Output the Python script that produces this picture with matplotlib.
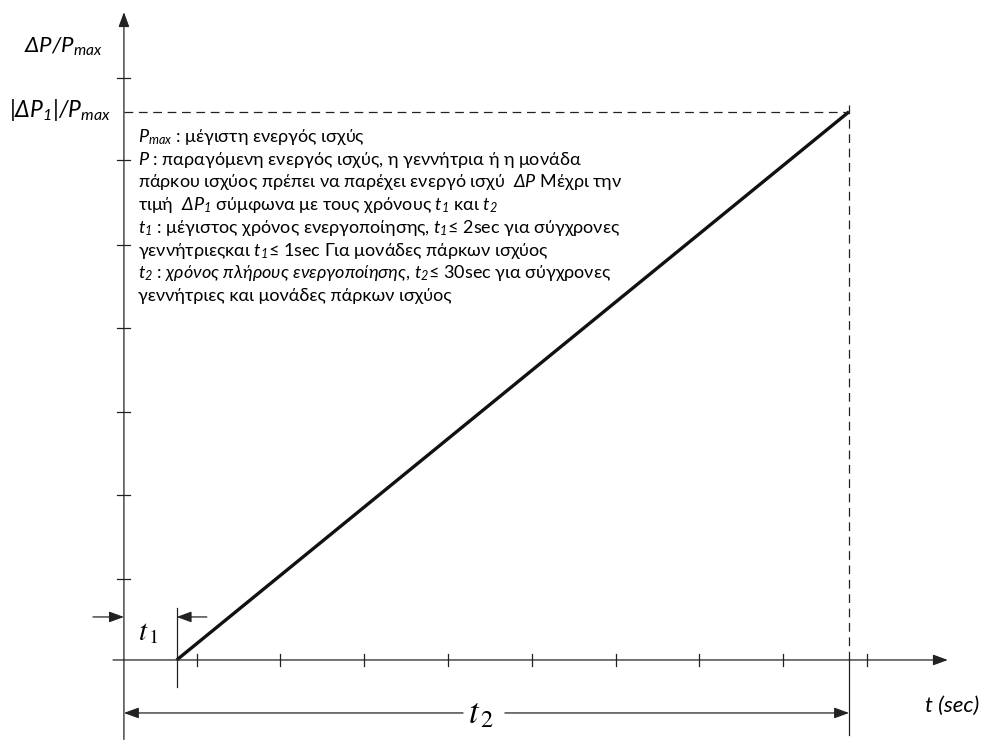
import matplotlib
matplotlib.use('Agg')
import matplotlib.pyplot as plt

# mathtext in italic sans (for the variables), t1/t2 labels use stix
plt.rcParams['font.family'] = ['Lato', 'DejaVu Sans']
plt.rcParams['mathtext.fontset'] = 'custom'
plt.rcParams['mathtext.rm'] = 'Lato:italic'
plt.rcParams['mathtext.it'] = 'Lato:italic'
plt.rcParams['mathtext.bf'] = 'Lato:bold'

# schematic values (1 unit = one tick step)
t1 = 0.63
t2 = 8.66
dp1 = 6.55
ramp_t = [t1, t2]
ramp_p = [0, dp1]
x_ticks = [0.87, 1.87, 2.87, 3.87, 4.87, 5.88, 6.87, 7.87, 8.88]
y_ticks = [0.97, 1.97, 2.96, 3.97, 4.96, 5.97, 6.95]

notes = [
    r"$P_{max}$ : μέγιστη ενεργός ισχύς",
    r"$P$ : παραγόμενη ενεργός ισχύς, η γεννήτρια ή η μονάδα",
    r"πάρκου ισχύος πρέπει να παρέχει ενεργό ισχύ  $ΔP$ Μέχρι την",
    r"τιμή  $ΔP_1$ σύμφωνα με τους χρόνους $t_1$ και $t_2$",
    r"$t_1$ : μέγιστος χρόνος ενεργοποίησης, $t_1$≤ 2sec για σύγχρονες",
    r"γεννήτριεςκαι $t_1$≤ 1sec Για μονάδες πάρκων ισχύος",
    r"$t_2$ : $χρόνος\ πλήρους\ ενεργοποίησης$, $t_2$≤ 30sec για σύγχρονες",
    r"γεννήτριες και μονάδες πάρκων ισχύος",
]

fig = plt.figure(figsize=(9.83, 7.40), dpi=100)
ax = fig.add_axes([0, 0, 1, 1])
ax.set_xlim(-1.48, 10.26)
ax.set_ylim(-0.956, 7.885)
ax.axis('off')

axc = '#222222'
alw = 0.9

def arrow(x0, y0, x1, y1):
    ax.annotate('', xy=(x1, y1), xytext=(x0, y0),
                arrowprops=dict(arrowstyle='-|>,head_length=0.9,head_width=0.33',
                                mutation_scale=10, lw=alw, color=axc,
                                shrinkA=0, shrinkB=0))

# axes with arrows
arrow(0, -0.95, 0, 7.74)
arrow(-0.13, 0, 9.84, 0)

# ticks
for yt in y_ticks:
    ax.plot([-0.08, 0.07], [yt, yt], color=axc, lw=alw)
for xt in x_ticks:
    ax.plot([xt, xt], [-0.07, 0.07], color=axc, lw=alw)

# ramp
ax.plot(ramp_t, ramp_p, color='#111111', lw=2.4, solid_capstyle='butt')

# dashed guides
ax.plot([0, t2], [dp1, dp1], color=axc, lw=alw, dashes=(7, 4.5))
ax.plot([t2, t2], [0, 6.67], color=axc, lw=alw, dashes=(7, 4.5))
ax.plot([t2, t2], [0, -0.9], color=axc, lw=alw)

# t1 marker
ax.plot([t1, t1], [0.62, -0.32], color=axc, lw=alw)
arrow(-0.37, 0.514, 0, 0.514)
arrow(0.99, 0.514, t1, 0.514)
ax.text(0.17, 0.24, r"$t_{\,1}$", fontsize=21, math_fontfamily='stix')

# t2 marker
arrow(4.05, -0.633, 0, -0.633)
arrow(4.55, -0.633, t2, -0.633)
ax.text(4.11, -0.75, r"$t_{\,2}$", fontsize=25, math_fontfamily='stix')

# axis labels
ax.text(-0.25, 7.26, r"$ΔP/P_{max}$", fontsize=16, ha='right', va='baseline')
ax.text(-0.16, 6.49, r"$|ΔP_1|/P_{max}$", fontsize=16.5, ha='right', va='baseline')
ax.text(9.57, -0.62, "t (sec)", fontsize=16, style='italic', va='baseline')

# explanation block
for i, line in enumerate(notes):
    ax.text(0.17, 6.19 - i * 0.272, line, fontsize=13, va='baseline')

fig.savefig('out.png', dpi=100)
